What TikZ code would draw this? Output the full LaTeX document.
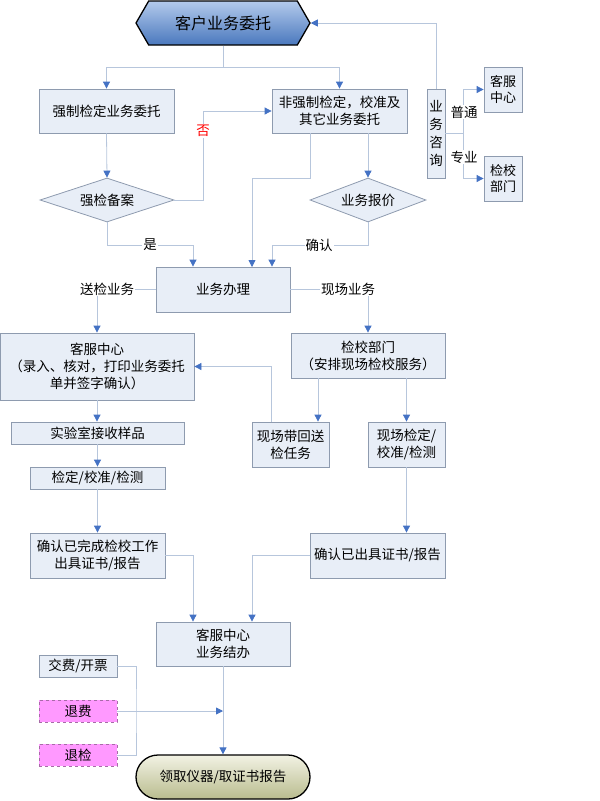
\documentclass[tikz,border=0pt]{standalone}
\usepackage{fontspec}
\setmainfont{Liberation Serif}
\newfontfamily\cjk{Noto Sans CJK SC}
\usetikzlibrary{shapes.geometric,shapes.symbols,arrows.meta}
\definecolor{boxfill}{HTML}{E8EEF7}
\definecolor{boxline}{HTML}{8E9BAF}
\definecolor{conline}{HTML}{B7C6DC}
\definecolor{arrblue}{HTML}{4472C4}
\definecolor{hextop}{HTML}{B3CAEB}
\definecolor{hexbot}{HTML}{4A78BE}
\definecolor{endtop}{HTML}{F2F2E4}
\definecolor{endbot}{HTML}{B9BC8E}
\definecolor{pinkfill}{HTML}{FF99FF}
\definecolor{pinkline}{HTML}{A86AA8}

\begin{document}
\begin{tikzpicture}[x=1pt, y=-1pt,
  every node/.style={font=\cjk\fontsize{13.5}{17}\selectfont, align=center, inner sep=0pt},
  box/.style={draw=boxline, fill=boxfill, line width=0.8pt, rectangle},
  choice/.style={draw=boxline, fill=boxfill, line width=0.8pt, diamond, aspect=3},
  refund/.style={draw=pinkline, fill=pinkfill, dashed, line width=0.7pt, rectangle},
  tag/.style={fill=white, inner sep=1pt},
  con/.style={draw=conline, line width=0.8pt},
  arr/.style={con, -{Triangle[length=7pt,width=7pt,color=arrblue]}}]
\useasboundingbox (0,0) rectangle (600,801);
% start and end
\node[signal, signal to=east and west, signal pointer angle=120, draw=black, line width=1.3pt,
  top color=hextop, bottom color=hexbot, minimum width=174pt, minimum height=44pt,
  font=\cjk\fontsize{16}{19}\selectfont] (WT) at (223,23) {客户业务委托};
\node[rectangle, rounded corners=22pt, draw=black, line width=1.3pt, top color=endtop, bottom color=endbot,
  minimum width=174pt, minimum height=44pt] (LQ) at (223,777) {领取仪器/取证书报告};
% first row
\node[box, minimum width=135pt, minimum height=44pt] (QZ) at (106.5,111) {强制检定业务委托};
\node[box, minimum width=135pt, minimum height=44pt] (FQZ) at (339.5,111) {非强制检定，校准及\\其它业务委托};
\node[box, minimum width=18pt, minimum height=89pt, font=\cjk\fontsize{13.5}{18}\selectfont] (ZX) at (436,133.5) {业\\务\\咨\\询};
\node[box, minimum width=38pt, minimum height=45pt, font=\cjk\fontsize{13}{16}\selectfont] (KF1) at (503,89.5) {客服\\中心};
\node[box, minimum width=38pt, minimum height=45pt, font=\cjk\fontsize{13}{16}\selectfont] (JX1) at (503,178.5) {检校\\部门};
\node[choice, minimum width=134pt, minimum height=44pt] (BA) at (107,200) {强检备案};
\node[choice, minimum width=116pt, minimum height=44pt] (BJ) at (368,200) {业务报价};
\node[box, minimum width=134pt, minimum height=45pt] (BL) at (223,289.5) {业务办理};
% two branches
\node[box, minimum width=194pt, minimum height=67pt] (KF2) at (97,366.5) {客服中心\\（录入、核对，打印业务委托\\单并签字确认）};
\node[box, minimum width=154pt, minimum height=45pt] (JX2) at (368,355.5) {检校部门\\（安排现场检校服务）};
\node[box, minimum width=77pt, minimum height=45pt] (DH) at (290.5,444.5) {现场带回送\\检任务};
\node[box, minimum width=77pt, minimum height=45pt] (XC) at (406.5,444.5) {现场检定/\\校准/检测};
\node[box, minimum width=173pt, minimum height=22pt] (YP) at (97.5,433) {实验室接收样品};
\node[box, minimum width=135pt, minimum height=22pt] (JD) at (97.5,478) {检定/校准/检测};
\node[box, minimum width=135pt, minimum height=45pt] (WC) at (97.5,555.5) {确认已完成检校工作\\出具证书/报告};
\node[box, minimum width=135pt, minimum height=45pt] (CJ) at (377.5,555.5) {确认已出具证书/报告};
\node[box, minimum width=134pt, minimum height=44pt] (JB) at (223,644) {客服中心\\业务结办};
\node[box, minimum width=78pt, minimum height=22pt] (JF) at (78,666) {交费/开票};
\node[refund, minimum width=78pt, minimum height=22pt] (TF) at (78,711) {退费};
\node[refund, minimum width=78pt, minimum height=22pt] (TJ) at (78,755) {退检};
% bends
\coordinate (S1) at (223,67);
\coordinate (S2) at (463,133.5);
\coordinate (S3) at (203,111);
\coordinate (S4) at (310,178);
\coordinate (S5) at (252,267);
\coordinate (S6) at (272,245);
\coordinate (S7) at (193,245);
\coordinate (S8) at (318,378);
\coordinate (S9) at (271,422);
\coordinate (S10) at (193,555.5);
\coordinate (S11) at (252,555.5);
\coordinate (S12) at (136,711);
% connectors
\draw[con] (WT.south) -- (S1);
\draw[arr] (S1) -| (QZ.north);
\draw[arr] (S1) -| (FQZ.north);
\draw[arr] (ZX.north) |- (WT.east);
\draw[con] (ZX.east) -- (S2);
\draw[arr] (S2) |- (KF1.west);
\draw[arr] (S2) |- (JX1.west);
\draw[arr] (QZ.south) -- (BA.north);
\draw[arr] (BA.east) -| (S3) -- (FQZ.west);
\draw[arr] (FQZ.south -| S4) -- (S4) -| (S5);
\draw[arr] (FQZ.south -| BJ.north) -- (BJ.north);
\draw[arr] (BJ.south) |- (S6) -- (S6 |- BL.north);
\draw[arr] (BA.south) |- (S7) -- (S7 |- BL.north);
\draw[arr] (BL.west) -| (KF2.north);
\draw[arr] (BL.east) -| (JX2.north);
\draw[arr] (S8) -- (S8 |- DH.north);
\draw[arr] (JX2.south -| XC.north) -- (XC.north);
\draw[arr] (S9) |- (KF2.east);
\draw[arr] (KF2.south) -- (KF2.south |- YP.north);
\draw[arr] (YP.south) -- (YP.south |- JD.north);
\draw[arr] (JD.south) -- (JD.south |- WC.north);
\draw[arr] (XC.south) -- (XC.south |- CJ.north);
\draw[arr] (WC.east) -- (S10) -- (S10 |- JB.north);
\draw[arr] (CJ.west) -- (S11) -- (S11 |- JB.north);
\draw[arr] (JB.south) -- (LQ.north);
\draw[con] (JF.east) -| (S12) |- (TJ.east);
\draw[arr] (TF.east) -- (TF.east -| JB.south);
% labels
\node[tag, text=red] (FOU) at (203,131) {否};
\node[tag] (SHI) at (150,245) {是};
\node[tag] (QR) at (319,245) {确认};
\node[tag] (SJ) at (107,289) {送检业务};
\node[tag] (XCYW) at (348,289) {现场业务};
\node[tag] (PT) at (464,112) {普通};
\node[tag] (ZY) at (464,157) {专业};
\end{tikzpicture}
\end{document}
